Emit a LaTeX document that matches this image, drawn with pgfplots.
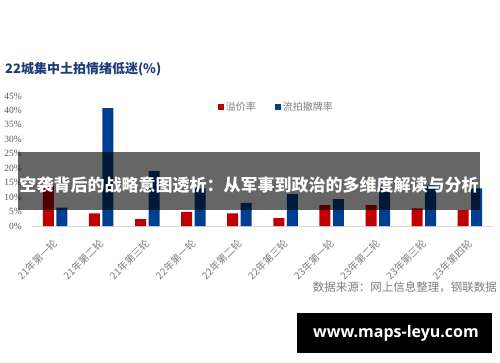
\documentclass[border=0pt]{standalone}
\usepackage{fontspec}
\setmainfont{Liberation Serif}
\newfontfamily\cjk{Noto Sans CJK SC}
\newfontfamily\webfont{Open Sans}
\usepackage{pgfplots}
\pgfplotsset{compat=1.18}
\definecolor{barred}{HTML}{C00000}
\definecolor{barblue}{HTML}{003F8F}
\definecolor{titleblue}{HTML}{1F3E79}
\definecolor{txtgray}{HTML}{595959}
\definecolor{lightgray}{HTML}{7F7F7F}
\definecolor{axgray}{HTML}{D9D9D9}
\begin{document}
\begin{tikzpicture}
\useasboundingbox[fill=white] (0pt,0pt) rectangle (500pt,362pt);
\node[anchor=west, inner sep=0pt, text=titleblue, font=\cjk\bfseries\fontsize{13}{13}\selectfont] at (5pt,293pt) {22城集中土拍情绪低迷(\%)};
\begin{axis}[
  at={(32pt,136pt)}, anchor=south west,
  scale only axis, width=461pt, height=130pt,
  xmin=-0.5, xmax=9.5, ymin=0, ymax=45,
  axis x line*=bottom, axis y line*=left,
  x axis line style={draw=axgray, line width=0.8pt, -},
  y axis line style={draw=none},
  major tick length=0pt,
  ybar=2.5pt, bar width=11pt,
  ytick={0,5,...,45},
  yticklabel={\pgfmathprintnumber[assume math mode=true]{\tick}\%},
  yticklabel style={anchor=east, inner sep=0pt, xshift=-10pt, text=txtgray, font=\fontsize{9.5}{9.5}\selectfont},
  xtick={0,...,9},
  xticklabels={21年第一轮,21年第二轮,21年第三轮,22年第一轮,22年第二轮,22年第三轮,23年第一轮,23年第二轮,23年第三轮,23年第四轮},
  xticklabel style={xshift=-3pt, yshift=-12pt, rotate=45, anchor=north east, inner sep=0pt, text=lightgray, font=\cjk\fontsize{10}{10}\selectfont},
  legend image code/.code={\fill[#1] (0pt,-3pt) rectangle (6pt,3pt);},
  legend style={at={(rel axis cs:0.404,0.915)}, anchor=west, draw=none, fill=none, legend columns=2, inner sep=0pt,
    font=\cjk\fontsize{10}{10}\selectfont, text=lightgray,
    nodes={inner sep=1.5pt},
    /tikz/every even column/.append style={column sep=18pt}},
]
\addplot[fill=barred, draw=none] coordinates {(0,14) (1,4.4) (2,2.4) (3,4.9) (4,4.4) (5,2.7) (6,7.2) (7,7.2) (8,6.1) (9,5.5)};
\addplot[fill=barblue, draw=none] coordinates {(0,6.4) (1,40.8) (2,19) (3,13) (4,8) (5,11) (6,9.3) (7,14) (8,14) (9,13)};
\legend{溢价率,流拍撤牌率}
\end{axis}
\node[anchor=east, inner sep=0pt, text=lightgray, font=\cjk\fontsize{11.5}{11.5}\selectfont] at (497pt,75pt) {数据来源：网上信息整理，钢联数据};
\fill[black, fill opacity=0.6] (18pt,152pt) rectangle (480pt,210pt);
\node[inner sep=0pt, text=white, font=\cjk\bfseries\fontsize{17}{17}\selectfont] at (249pt,177pt) {空袭背后的战略意图透析：从军事到政治的多维度解读与分析};
\fill[black] (297pt,9pt) rectangle (492pt,49pt);
\node[inner sep=0pt, text=white, font=\webfont\bfseries\fontsize{16}{16}\selectfont] at (396pt,29pt) {www.maps-leyu.com};
\end{tikzpicture}
\end{document}
